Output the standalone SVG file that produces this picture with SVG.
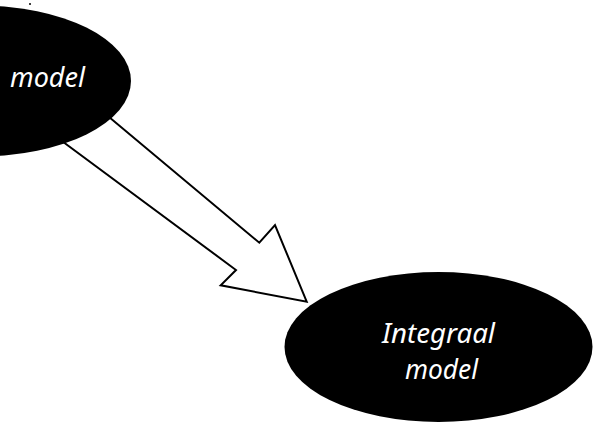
<svg xmlns="http://www.w3.org/2000/svg" width="593" height="427" viewBox="0 0 593 427">
<style>
.node{fill:#000;stroke:none}
.lbl{fill:#fff;font-family:"Noto Sans","Open Sans","DejaVu Sans",sans-serif;font-style:italic;font-size:27px}
.arrow{fill:#fff;stroke:#000;stroke-width:2;stroke-linejoin:miter}
</style>
<rect width="593" height="427" fill="#fff"/>
<g id="connectors">
<polygon class="arrow" points="60,76 259.3,242.7 275,225 306.7,301.7 220.7,285.3 236,270 20,110"/>
</g>
<g id="node-model">
<ellipse class="node" cx="-21" cy="81" rx="152" ry="75.5"/>
<text class="lbl" x="10" y="87" textLength="75" lengthAdjust="spacingAndGlyphs">model</text>
</g>
<g id="node-integraal">
<ellipse class="node" cx="438.5" cy="347" rx="154" ry="75"/>
<text class="lbl" x="382" y="343" textLength="113" lengthAdjust="spacingAndGlyphs">Integraal</text>
<text class="lbl" x="405" y="379" textLength="73" lengthAdjust="spacingAndGlyphs">model</text>
</g>
<circle cx="30" cy="4" r="1" fill="#000"/>
</svg>
